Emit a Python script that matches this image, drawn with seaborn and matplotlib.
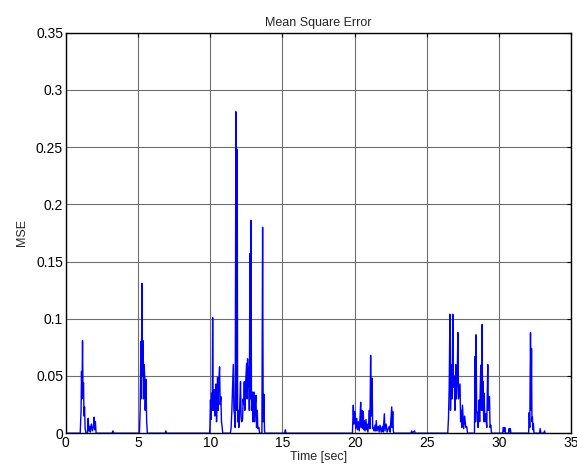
import numpy as np
import pandas as pd
import matplotlib
matplotlib.use("Agg")
import matplotlib.pyplot as plt
import seaborn as sns

time_s = [
    0.0, 1.0,
    1.0, 1.06, 1.09, 1.12, 1.16, 1.19, 1.23, 1.26, 1.30, 1.34, 1.40, 1.50, 1.55, 1.60, 1.66, 1.70,
    1.77, 1.85, 1.92, 1.96, 2.00, 2.05, 2.10,
    3.20, 3.26, 3.32,
    5.10, 5.15, 5.20, 5.23, 5.27, 5.30, 5.34, 5.38, 5.42, 5.47, 5.50, 5.55, 5.60, 5.65,
    6.88, 6.93, 6.98,
    9.95, 9.98, 10.02, 10.06, 10.10, 10.14, 10.17, 10.20, 10.24, 10.28, 10.32, 10.36, 10.40, 10.44,
    10.48, 10.51, 10.55, 10.60, 10.65, 10.69, 10.74, 10.78, 10.83, 10.87,
    11.40, 11.45, 11.50, 11.55, 11.60, 11.64, 11.69, 11.73, 11.78, 11.82, 11.87, 11.90, 11.94, 11.98,
    12.02, 12.06, 12.10, 12.14, 12.18, 12.24, 12.28, 12.32, 12.36, 12.40, 12.44, 12.48, 12.52, 12.56,
    12.59, 12.63, 12.68, 12.71, 12.75, 12.78, 12.82, 12.86, 12.91, 12.95, 12.99, 13.03, 13.07, 13.12,
    13.17, 13.21, 13.26, 13.30, 13.37, 13.42, 13.58, 13.63, 13.67, 13.72, 13.76, 13.80,
    15.15, 15.20, 15.25,
    19.85, 19.91, 19.95, 20.00, 20.03, 20.08, 20.15, 20.20, 20.26, 20.32, 20.38, 20.42, 20.46, 20.51,
    20.55, 20.60, 20.64, 20.67, 20.72, 20.79, 20.83, 20.86, 20.92, 20.98, 21.02, 21.06, 21.11, 21.15,
    21.21, 21.25, 21.30, 21.35, 21.41, 21.45, 21.50, 21.55, 21.64, 21.70, 21.76, 21.84, 21.92, 21.98,
    22.06, 22.10, 22.18, 22.25, 22.40, 22.46, 22.57, 22.60, 22.64, 22.68, 22.72,
    23.90, 23.95, 24.00, 24.15, 24.20,
    26.45, 26.50, 26.55, 26.60, 26.64, 26.70, 26.75, 26.80, 26.84, 26.90, 26.95, 27.00, 27.05, 27.10,
    27.15, 27.20, 27.30, 27.34, 27.38, 27.42, 27.47, 27.55, 27.62, 27.70, 27.77, 27.82,
    28.30, 28.34, 28.38, 28.41, 28.45, 28.51, 28.55, 28.62, 28.66, 28.70, 28.74, 28.78, 28.83, 28.86,
    28.90, 28.94, 28.97, 29.02, 29.08, 29.15, 29.22, 29.26, 29.30, 29.34, 29.38, 29.43, 29.48,
    30.25, 30.30, 30.35, 30.40, 30.45, 30.65, 30.70, 30.74, 30.78, 30.82,
    32.05, 32.09, 32.13, 32.18, 32.22, 32.25, 32.28, 32.31, 32.35, 32.38, 32.42,
    32.80, 32.85, 32.90, 33.10, 33.15, 33.20,
]
mse = [
    0.0, 0.0,
    0.0, 0.020, 0.054, 0.030, 0.081, 0.040, 0.044, 0.015, 0.023, 0.004, 0.0, 0.0, 0.013, 0.002, 0.006, 0.001,
    0.008, 0.002, 0.007, 0.014, 0.003, 0.010, 0.0,
    0.0, 0.002, 0.0,
    0.0, 0.020, 0.080, 0.030, 0.131, 0.050, 0.081, 0.030, 0.060, 0.049, 0.020, 0.047, 0.010, 0.0,
    0.0, 0.002, 0.0,
    0.0, 0.005, 0.029, 0.012, 0.035, 0.020, 0.101, 0.030, 0.020, 0.038, 0.015, 0.025, 0.043, 0.010,
    0.030, 0.049, 0.020, 0.045, 0.058, 0.025, 0.032, 0.010, 0.005, 0.0,
    0.0, 0.005, 0.020, 0.040, 0.060, 0.020, 0.016, 0.005, 0.281, 0.020, 0.248, 0.010, 0.020, 0.005,
    0.010, 0.030, 0.045, 0.015, 0.010, 0.012, 0.030, 0.025, 0.045, 0.020, 0.040, 0.050, 0.061, 0.030,
    0.065, 0.040, 0.058, 0.020, 0.157, 0.030, 0.186, 0.020, 0.036, 0.010, 0.028, 0.036, 0.010, 0.025,
    0.033, 0.005, 0.020, 0.004, 0.005, 0.0, 0.0, 0.180, 0.010, 0.034, 0.002, 0.0,
    0.0, 0.003, 0.0,
    0.0, 0.0245, 0.008, 0.019, 0.017, 0.004, 0.013, 0.003, 0.010, 0.002, 0.015, 0.027, 0.005, 0.020,
    0.004, 0.019, 0.003, 0.011, 0.002, 0.012, 0.003, 0.008, 0.001, 0.010, 0.020, 0.004, 0.068, 0.015,
    0.048, 0.004, 0.005, 0.002, 0.007, 0.002, 0.011, 0.002, 0.006, 0.001, 0.007, 0.001, 0.006, 0.001,
    0.017, 0.002, 0.008, 0.001, 0.006, 0.001, 0.023, 0.005, 0.019, 0.002, 0.0,
    0.0, 0.002, 0.0, 0.002, 0.0,
    0.0, 0.013, 0.040, 0.104, 0.020, 0.060, 0.030, 0.104, 0.040, 0.050, 0.020, 0.060, 0.030, 0.045,
    0.088, 0.030, 0.043, 0.010, 0.020, 0.005, 0.0245, 0.004, 0.015, 0.005, 0.0055, 0.0,
    0.0, 0.067, 0.010, 0.086, 0.020, 0.017, 0.005, 0.029, 0.010, 0.040, 0.0595, 0.020, 0.095, 0.020,
    0.045, 0.010, 0.035, 0.010, 0.017, 0.005, 0.060, 0.020, 0.030, 0.032, 0.005, 0.007, 0.0,
    0.0, 0.005, 0.001, 0.005, 0.0, 0.0, 0.004, 0.001, 0.004, 0.0,
    0.0, 0.018, 0.005, 0.088, 0.020, 0.074, 0.010, 0.014, 0.003, 0.0085, 0.0,
    0.0, 0.004, 0.0, 0.0, 0.002, 0.0,
]

x_ticks = [0, 5, 10, 15, 20, 25, 30, 35]
y_ticks = [0, 0.05, 0.1, 0.15, 0.2, 0.25, 0.3, 0.35]
y_tick_labels = ["0", "0.05", "0.1", "0.15", "0.2", "0.25", "0.3", "0.35"]

sns.set_style("white")
plt.rcParams['font.family'] = ['Liberation Sans', 'DejaVu Sans']

df = pd.DataFrame({"Time [sec]": time_s, "MSE": mse})

fig = plt.figure(figsize=(5.77, 4.75), dpi=100)
ax = fig.add_axes([0.114, 0.088, 0.876, 0.843])

sns.lineplot(data=df, x="Time [sec]", y="MSE", ax=ax, sort=False, estimator=None,
             color="#0000ff", linewidth=1.0, zorder=3)

ax.set_xlim(0, 35)
ax.set_ylim(0, 0.35)
ax.set_xticks(x_ticks)
ax.set_yticks(y_ticks)
ax.set_yticklabels(y_tick_labels)
ax.grid(True, color="#6e6e6e", linewidth=0.8, zorder=0)
ax.tick_params(direction="in", length=3, width=0.8, labelsize=10, top=True, right=True,
               colors="black", pad=2)
for s in ax.spines.values():
    s.set_visible(True)
    s.set_color("black")
    s.set_linewidth(1.0)

ax.set_title("Mean Square Error", fontsize=9, pad=5)
ax.set_xlabel("Time [sec]", fontsize=9, labelpad=1)
ax.set_ylabel("MSE", fontsize=9, labelpad=6)

fig.savefig("out.png", dpi=100)
